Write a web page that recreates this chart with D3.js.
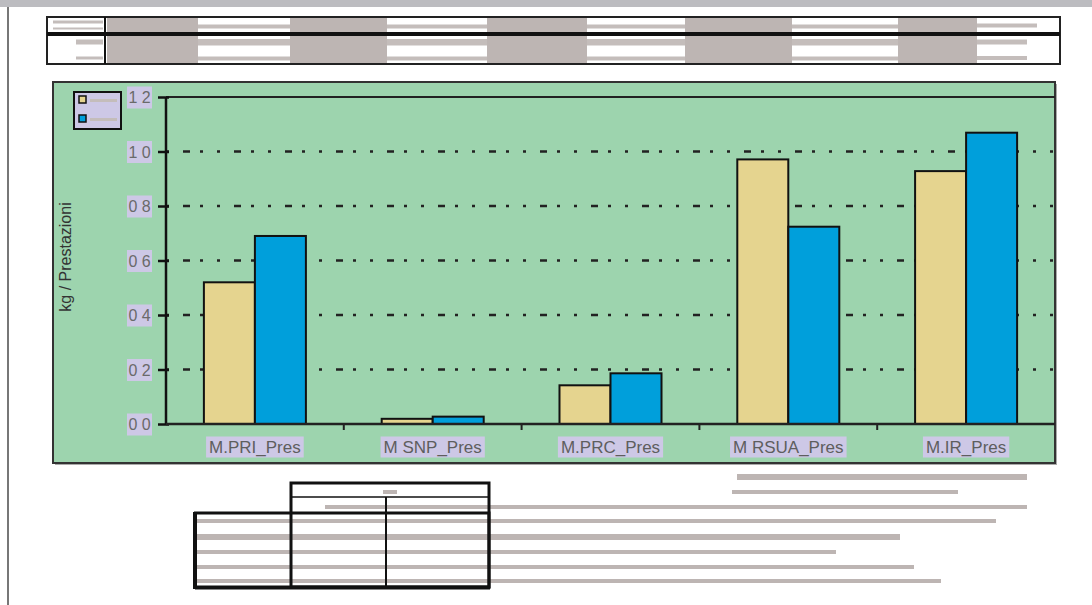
<!doctype html>
<html>
<head>
<meta charset="utf-8">
<script src="https://cdn.jsdelivr.net/npm/d3@7"></script>
<style>
    html, body { margin: 0; padding: 0; background: #fff; }
    svg { display: block; }
    .lbl { font-family: "Liberation Sans", Arial, sans-serif; fill: #5e5e5e; }
</style>
</head>
<body>
<svg id="page" width="1092" height="605"></svg>
<script>
    // chart data
    var categories = ["M.PRI_Pres", "M SNP_Pres", "M.PRC_Pres", "M RSUA_Pres", "M.IR_Pres"];
    var seriesNames = ["serie A", "serie B"];
    var seriesA = [0.52, 0.019, 0.142, 0.971, 0.928];
    var seriesB = [0.69, 0.027, 0.186, 0.724, 1.069];
    var yTicks = [0, 0.2, 0.4, 0.6, 0.8, 1.0, 1.2];
    var yTickLabels = ["0 0", "0 2", "0 4", "0 6", "0 8", "1 0", "1 2"];
    var yTitle = "kg / Prestazioni";

    var colors = {A: "#e5d48f", B: "#009fdb"};
    var redact = "#bdb5b3";

    var svg = d3.select("#page");

    // page furniture (scan of a document)
    svg.append("rect").attr("x", 0).attr("y", 0).attr("width", 1092).attr("height", 7).attr("fill", "#bcbcc0");
    svg.append("rect").attr("x", 7).attr("y", 7).attr("width", 2).attr("height", 598).attr("fill", "#777");

    // ---- top table ----
    var topTbl = svg.append("g");
    topTbl.append("rect").attr("x", 47).attr("y", 17).attr("width", 1013).attr("height", 47)
        .attr("fill", "#fff").attr("stroke", "#222").attr("stroke-width", 2);
    var shaded = [[107, 198], [290, 387], [487, 587], [685, 792], [898, 977]];
    var plain = [[198, 290], [387, 487], [587, 685], [792, 898]];
    shaded.forEach(function(c){
        topTbl.append("rect").attr("x", c[0]).attr("y", 18).attr("width", c[1] - c[0]).attr("height", 45).attr("fill", redact);
    });
    plain.forEach(function(c){
        [[24.5, 4], [39, 6.5], [56.5, 4]].forEach(function(b){
            topTbl.append("rect").attr("x", c[0]).attr("y", b[0]).attr("width", c[1] - c[0]).attr("height", b[1]).attr("fill", "#c4bdbb");
        });
    });
    [[53, 20.5, 50, 3], [53, 27.5, 50, 2], [76, 39.5, 27, 5], [76, 56.5, 27, 3],
     [977, 23.5, 60, 4], [977, 39.5, 50, 5], [977, 56, 50, 4]].forEach(function(r){
        topTbl.append("rect").attr("x", r[0]).attr("y", r[1]).attr("width", r[2]).attr("height", r[3]).attr("fill", "#c4bdbb");
    });
    topTbl.append("rect").attr("x", 47).attr("y", 32).attr("width", 1013).attr("height", 4).attr("fill", "#111");
    topTbl.append("rect").attr("x", 104).attr("y", 17).attr("width", 2).attr("height", 47).attr("fill", "#111");

    // ---- chart panel ----
    var panel = {x: 53, y: 82, w: 1002, h: 381};
    svg.append("rect").attr("x", panel.x + 2).attr("y", panel.y + 2).attr("width", panel.w).attr("height", panel.h).attr("fill", "#aaa");
    svg.append("rect").attr("x", panel.x).attr("y", panel.y).attr("width", panel.w).attr("height", panel.h)
        .attr("fill", "#9dd4ae").attr("stroke", "#333").attr("stroke-width", 2);

    var plotL = 166, plotR = 1055, plotT = 97, plotB = 424;

    var x0 = d3.scaleBand().domain(categories).range([plotL, plotR]).padding(0);
    var x1 = d3.scaleBand().domain(seriesNames).range([0, x0.bandwidth()]).paddingInner(0).paddingOuter(0.743);
    var y = d3.scaleLinear().domain([0, 1.2]).range([plotB, plotT]);

    var g = svg.append("g");

    // gridlines
    g.selectAll(".grid").data(yTicks.filter(function(d){ return d > 0 && d < 1.2; }))
        .enter().append("line")
        .attr("x1", plotL).attr("x2", plotR - 2)
        .attr("y1", function(d){ return y(d); }).attr("y2", function(d){ return y(d); })
        .attr("stroke", "#222").attr("stroke-width", 2.5)
        .attr("stroke-dasharray", "3,14,7,10,3,14");
    // top line at max
    g.append("line").attr("x1", plotL).attr("x2", plotR).attr("y1", y(1.2)).attr("y2", y(1.2))
        .attr("stroke", "#222").attr("stroke-width", 2);

    // bars
    var rows = categories.map(function(c, i){ return {cat: c, vals: [seriesA[i], seriesB[i]]}; });
    var grp = g.selectAll(".cat").data(rows).enter().append("g")
        .attr("transform", function(d){ return "translate(" + x0(d.cat) + ",0)"; });
    grp.selectAll("rect").data(function(d){ return d.vals.map(function(v, k){ return {s: seriesNames[k], v: v}; }); })
        .enter().append("rect")
        .attr("x", function(d){ return x1(d.s); })
        .attr("width", x1.bandwidth())
        .attr("y", function(d){ return y(d.v); })
        .attr("height", function(d){ return y(0) - y(d.v); })
        .attr("fill", function(d, k){ return k === 0 ? colors.A : colors.B; })
        .attr("stroke", "#111").attr("stroke-width", 2);

    // y axis
    var yAxis = g.append("g").attr("transform", "translate(" + plotL + ",0)")
        .call(d3.axisLeft(y).tickValues(yTicks).tickSize(8).tickFormat(function(d, i){ return yTickLabels[i]; }));
    yAxis.select(".domain").attr("stroke", "#111").attr("stroke-width", 2.5).attr("d", "M0," + plotT + "V" + plotB);
    yAxis.selectAll(".tick line").attr("stroke", "#111").attr("stroke-width", 2.5).attr("x1", 3);
    yAxis.selectAll(".tick").insert("rect", "text")
        .attr("x", -39).attr("y", -11).attr("width", 25).attr("height", 22).attr("fill", "#cdc8e6");
    yAxis.selectAll(".tick text").attr("class", "lbl").attr("x", -26.5).attr("text-anchor", "middle")
        .attr("font-size", 16).attr("dy", "0.35em").style("fill", "#6a6a6a");

    // x axis
    g.append("line").attr("x1", plotL).attr("x2", plotR).attr("y1", plotB).attr("y2", plotB)
        .attr("stroke", "#222").attr("stroke-width", 2.5);
    g.selectAll(".xtick").data(categories.slice(1)).enter().append("line")
        .attr("x1", function(d){ return x0(d); }).attr("x2", function(d){ return x0(d); })
        .attr("y1", plotB).attr("y2", plotB + 6)
        .attr("stroke", "#222").attr("stroke-width", 2);
    var xAxis = g.append("g").attr("transform", "translate(0," + (plotB + 23) + ")")
        .call(d3.axisBottom(x0).tickSize(0).tickPadding(0));
    xAxis.select(".domain").remove();
    xAxis.selectAll(".tick text").attr("class", "lbl").attr("font-size", 17).attr("dy", "0.35em").attr("y", 0);
    xAxis.selectAll(".tick").each(function(){
        var t = d3.select(this).select("text");
        var w = t.node().getComputedTextLength() + 6;
        d3.select(this).insert("rect", "text")
            .attr("x", -w / 2).attr("y", -10.5).attr("width", w).attr("height", 21).attr("fill", "#cdc8e6");
    });

    // y title
    svg.append("text").attr("transform", "translate(71,257) rotate(-90)")
        .attr("text-anchor", "middle").attr("font-size", 16)
        .attr("font-family", "Liberation Sans, Arial, sans-serif").attr("fill", "#333")
        .text(yTitle);

    // legend
    var leg = svg.append("g");
    leg.append("rect").attr("x", 74).attr("y", 92).attr("width", 47).attr("height", 37)
        .attr("fill", "#cdc8e6").attr("stroke", "#111").attr("stroke-width", 2);
    seriesNames.forEach(function(s, k){
        var yy = k === 0 ? 96 : 115;
        leg.append("rect").attr("x", 79).attr("y", yy).attr("width", 7).attr("height", 7)
            .attr("fill", k === 0 ? colors.A : colors.B).attr("stroke", "#111").attr("stroke-width", 1.5);
        leg.append("rect").attr("x", 90).attr("y", yy + 3).attr("width", 27).attr("height", 3).attr("fill", "#c4bdbb");
    });

    // ---- bottom table ----
    var bt = svg.append("g");
    // redaction lines running to the right
    [[737, 474, 290, 6], [732, 490, 226, 4], [325, 505, 702, 4], [194, 519, 802, 4],
     [194, 534, 706, 6], [194, 550, 642, 4], [194, 565, 720, 4], [194, 579, 747, 4]].forEach(function(r){
        bt.append("rect").attr("x", r[0]).attr("y", r[1]).attr("width", r[2]).attr("height", r[3]).attr("fill", redact);
    });
    bt.append("rect").attr("x", 383).attr("y", 490).attr("width", 14).attr("height", 4).attr("fill", redact);
    // header box
    bt.append("rect").attr("x", 291).attr("y", 483).attr("width", 198).attr("height", 104)
        .attr("fill", "none").attr("stroke", "#111").attr("stroke-width", 3);
    bt.append("line").attr("x1", 291).attr("x2", 489).attr("y1", 497).attr("y2", 497).attr("stroke", "#111").attr("stroke-width", 1.5);
    bt.append("line").attr("x1", 386).attr("x2", 386).attr("y1", 497).attr("y2", 587).attr("stroke", "#111").attr("stroke-width", 2);
    // body
    bt.append("rect").attr("x", 195.5).attr("y", 513).attr("width", 293.5).attr("height", 74)
        .attr("fill", "none").attr("stroke", "#111").attr("stroke-width", 3);
    bt.append("line").attr("x1", 195).attr("x2", 195).attr("y1", 512).attr("y2", 589).attr("stroke", "#111").attr("stroke-width", 4);
    bt.append("line").attr("x1", 195).attr("x2", 490).attr("y1", 588).attr("y2", 588).attr("stroke", "#111").attr("stroke-width", 3);
</script>
</body>
</html>
